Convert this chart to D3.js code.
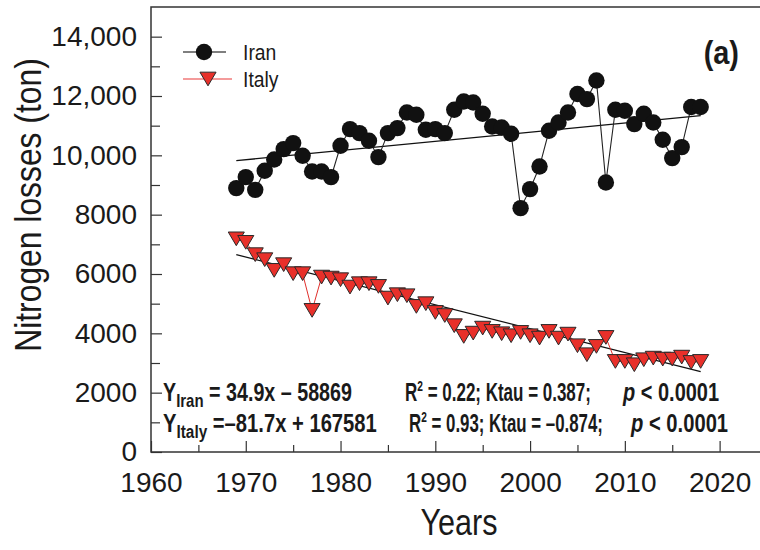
<!DOCTYPE html>
<html>
<head>
<meta charset="utf-8">
<script src="https://cdn.jsdelivr.net/npm/d3@7"></script>
<style>
  body { margin: 0; background: #fff; }
  svg { display: block; }
  text { font-family: "Liberation Sans", Arial, sans-serif; fill: #1a1a1a; }
</style>
</head>
<body>
<div id="chart"></div>
<script>
// data
var years = [1969, 1970, 1971, 1972, 1973, 1974, 1975, 1976, 1977, 1978, 1979,
  1980, 1981, 1982, 1983, 1984, 1985, 1986, 1987, 1988, 1989,
  1990, 1991, 1992, 1993, 1994, 1995, 1996, 1997, 1998, 1999,
  2000, 2001, 2002, 2003, 2004, 2005, 2006, 2007, 2008, 2009,
  2010, 2011, 2012, 2013, 2014, 2015, 2016, 2017, 2018];

var iran = [8895, 9266, 8837, 9478, 9860, 10210, 10412, 9984, 9455, 9455, 9266,
  10321, 10885, 10750, 10490, 9940, 10750, 10918, 11445, 11367, 10861,
  10885, 10750, 11536, 11816, 11782, 11401, 10973, 10939, 10726, 8220,
  8861, 9623, 10827, 11108, 11445, 12065, 11896, 12524, 9084, 11536,
  11502, 11053, 11401, 11108, 10524, 9906, 10277, 11627, 11627];

var italy = [7185, 7067, 6652, 6483, 6122, 6314, 6011, 6011, 4773, 5896, 5862,
  5808, 5559, 5673, 5673, 5582, 5188, 5302, 5268, 4908, 4999,
  4705, 4600, 4257, 3896, 4007, 4176, 4065, 3987, 3919, 4031,
  3919, 3839, 4065, 3839, 3973, 3582, 3279, 3559, 3862, 3053,
  3053, 2941, 3110, 3164, 3130, 3130, 3198, 3019, 3053];

// fitted lines, end points
var trendYears = [1969, 2018];
var iranTrend = [9820, 11340];
var italyTrend = [6650, 2710];

var xMajor = [1960, 1970, 1980, 1990, 2000, 2010, 2020];
var xMinor = [1965, 1975, 1985, 1995, 2005, 2015];
var yMajor = [0, 2000, 4000, 6000, 8000, 10000, 12000, 14000];
var yLabels = ["0", "2000", "4000", "6000", "8000", "10,000", "12,000", "14,000"];
var yMinor = [1000, 3000, 5000, 7000, 9000, 11000, 13000];

var W = 760, H = 550;

var svg = d3.select("#chart").append("svg")
  .attr("width", W)
  .attr("height", H);

var x = d3.scaleLinear().domain([1960, 2025]).range([151, 767]);
var y = d3.scaleLinear().domain([0, 15000]).range([452, 7]);

// squeeze text horizontally (the figure uses a narrow face)
function squeeze(sel, k) {
  sel.each(function() {
    var L = this.getComputedTextLength();
    d3.select(this).attr("textLength", L * k).attr("lengthAdjust", "spacingAndGlyphs");
  });
}

// axes
svg.append("g")
  .attr("transform", "translate(0," + y(0) + ")")
  .call(d3.axisBottom(x).tickValues(xMajor).tickSizeInner(-11).tickSizeOuter(0)
    .tickPadding(20).tickFormat(d3.format("d")));
svg.append("g")
  .attr("transform", "translate(0," + y(0) + ")")
  .call(d3.axisBottom(x).tickValues(xMinor).tickSizeInner(-7).tickSizeOuter(0).tickFormat(""));

svg.append("g")
  .attr("transform", "translate(" + x(1960) + ",0)")
  .call(d3.axisLeft(y).tickValues(yMajor).tickSizeInner(-11).tickSizeOuter(0)
    .tickPadding(14).tickFormat(function(d, i) { return yLabels[i]; }));
svg.append("g")
  .attr("transform", "translate(" + x(1960) + ",0)")
  .call(d3.axisLeft(y).tickValues(yMinor).tickSizeInner(-9).tickSizeOuter(0).tickFormat(""));

svg.selectAll(".domain").remove();
svg.selectAll(".tick line").attr("stroke", "#333").attr("stroke-width", 1.2);
svg.selectAll(".tick text")
  .style("font-family", '"Liberation Sans", Arial, sans-serif')
  .style("font-size", "28px")
  .attr("fill", "#1a1a1a");

// frame
svg.append("rect")
  .attr("x", x(1960)).attr("y", y(15000))
  .attr("width", x(2025) - x(1960)).attr("height", y(0) - y(15000))
  .attr("fill", "none").attr("stroke", "#333").attr("stroke-width", 1.5);

// axis titles
var yt = svg.append("text")
  .attr("transform", "translate(41,205) rotate(-90)")
  .attr("text-anchor", "middle")
  .style("font-size", "37px")
  .text("Nitrogen losses (ton)");
squeeze(yt, 0.86);

var xt = svg.append("text")
  .attr("x", 459).attr("y", 535)
  .attr("text-anchor", "middle")
  .style("font-size", "36px")
  .text("Years");
squeeze(xt, 0.85);

// trend lines
var tline = d3.line().x(function(d) { return x(d[0]); }).y(function(d) { return y(d[1]); });
svg.append("path")
  .datum(d3.zip(trendYears, iranTrend))
  .attr("d", tline).attr("fill", "none").attr("stroke", "#111").attr("stroke-width", 1.3);
svg.append("path")
  .datum(d3.zip(trendYears, italyTrend))
  .attr("d", tline).attr("fill", "none").attr("stroke", "#111").attr("stroke-width", 1.3);

// series lines
svg.append("path")
  .datum(d3.zip(years, italy))
  .attr("d", tline).attr("fill", "none").attr("stroke", "#e0302c").attr("stroke-width", 1);
svg.append("path")
  .datum(d3.zip(years, iran))
  .attr("d", tline).attr("fill", "none").attr("stroke", "#222").attr("stroke-width", 1.1);

// down triangle, centred on its box
var triDown = {
  draw: function(ctx, size) {
    var w = Math.sqrt(size) * 1.05, h = w * 0.85;
    ctx.moveTo(-w / 2, -h / 2);
    ctx.lineTo(w / 2, -h / 2);
    ctx.lineTo(0, h / 2);
    ctx.closePath();
  }
};
var triPath = d3.symbol().type(triDown).size(235);

svg.append("g").selectAll("path")
  .data(d3.zip(years, italy))
  .enter().append("path")
  .attr("transform", function(d) { return "translate(" + x(d[0]) + "," + y(d[1]) + ")"; })
  .attr("d", triPath)
  .attr("fill", "#e8302a").attr("stroke", "#2a2a2a").attr("stroke-width", 1);

svg.append("g").selectAll("circle")
  .data(d3.zip(years, iran))
  .enter().append("circle")
  .attr("cx", function(d) { return x(d[0]); })
  .attr("cy", function(d) { return y(d[1]); })
  .attr("r", 8.2)
  .attr("fill", "#111");

// legend
var lg = svg.append("g");
lg.append("line").attr("x1", 183).attr("x2", 226).attr("y1", 52).attr("y2", 52)
  .attr("stroke", "#555").attr("stroke-width", 1.5);
lg.append("circle").attr("cx", 204).attr("cy", 52).attr("r", 8.2).attr("fill", "#111");
lg.append("line").attr("x1", 183).attr("x2", 232).attr("y1", 79).attr("y2", 79)
  .attr("stroke", "#f07a7a").attr("stroke-width", 1.5);
lg.append("path").attr("transform", "translate(208,79)").attr("d", triPath)
  .attr("fill", "#e8302a").attr("stroke", "#2a2a2a").attr("stroke-width", 1);
var lt = lg.selectAll("text.leg")
  .data(["Iran", "Italy"])
  .enter().append("text")
  .attr("class", "leg")
  .attr("x", 243)
  .attr("y", function(d, i) { return 60 + i * 27; })
  .style("font-size", "22px")
  .text(function(d) { return d; });
squeeze(lt, 0.88);

var pa = svg.append("text")
  .attr("x", 739).attr("y", 64)
  .attr("text-anchor", "end")
  .style("font-size", "34px").style("font-weight", "bold")
  .text("(a)");
squeeze(pa, 0.85);

// regression notes: each piece is fitted to its width in the figure
function fitText(x0, y0, w, build) {
  var t = svg.append("text").attr("x", 0).attr("y", 0)
    .style("font-size", "25px").style("font-weight", "bold");
  build(t);
  var bw = t.node().getBBox().width;
  t.attr("transform", "translate(" + x0 + "," + y0 + ") scale(" + (w / bw) + ",1)");
}

function eqLine(yy, name, rhs, widths, r2, xr, xp) {
  fitText(163, yy, widths[0], function(t) {
    t.append("tspan").text("Y");
    t.append("tspan").attr("dy", 6).style("font-size", "19px").text(name);
    t.append("tspan").attr("dy", -6).text(rhs);
  });
  fitText(xr, yy, widths[1], function(t) {
    t.append("tspan").text("R");
    t.append("tspan").attr("dy", -10).style("font-size", "15px").text("2");
    t.append("tspan").attr("dy", 10).text(r2);
  });
  fitText(xp, yy, widths[2], function(t) {
    t.append("tspan").style("font-style", "italic").text("p");
    t.append("tspan").text(" < 0.0001");
  });
}
eqLine(401, "Iran", " = 34.9x \u2013 58869", [189, 186, 97], " = 0.22; Ktau = 0.387;", 405, 623);
eqLine(432, "Italy", " =\u201381.7x + 167581", [214, 194, 98], " = 0.93; Ktau = \u20130.874;", 409, 631);
</script>
</body>
</html>
